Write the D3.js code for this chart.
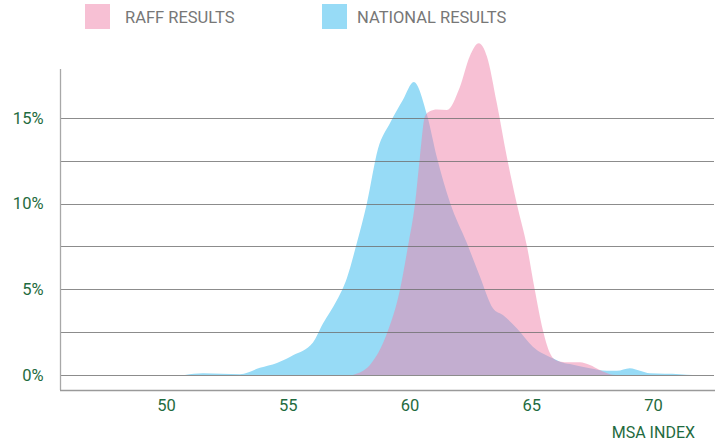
<!DOCTYPE html>
<html>
<head>
<meta charset="utf-8">
<script src="https://cdn.jsdelivr.net/npm/d3@7"></script>
<style>
  body { margin: 0; background: #fff; }
  svg text { font-family: Roboto, "Noto Sans", sans-serif; }
</style>
</head>
<body>
<div id="chart"></div>
<script>
// values (MSA index, share of results in %)
var seriesNames = ["RAFF RESULTS", "NATIONAL RESULTS"];
var seriesColors = ["#f7c0d4", "#97dbf6"];

var nationalX = [50.78, 51.52, 53.04, 53.86, 54.56, 55.22, 56.04, 56.45, 57.02, 57.43, 57.84, 58.25, 58.71, 59.2, 59.73, 60.18,
  60.72, 61.13, 61.66, 62.36, 62.9, 63.43, 63.84, 64.41, 65.07, 65.89, 66.18, 66.59, 67.41, 68.11, 68.52, 69.05, 69.47, 69.88, 71.1, 71.64];
var nationalY = [0, 0.1, 0.05, 0.42, 0.7, 1.15, 1.9, 3.0, 4.36, 5.65, 7.7, 10.0, 13.2, 14.7, 16.05, 17.1,
  15.2, 12.7, 10.1, 7.7, 5.74, 3.9, 3.5, 2.73, 1.65, 0.97, 0.78, 0.64, 0.4, 0.25, 0.25, 0.4, 0.25, 0.1, 0.05, 0];

var raffX = [57.68, 58.38, 59.08, 59.61, 59.94, 60.23, 60.43, 60.64, 60.84, 61.13, 61.54, 62.07, 62.48, 62.85, 63.18, 63.59,
  64.0, 64.41, 64.83, 65.15, 65.48, 65.77, 66.06, 66.39, 67.0, 67.41, 67.82, 68.23, 68.44];
var raffY = [0, 0.58, 2.43, 4.96, 7.5, 10, 12.7, 15.1, 15.4, 15.5, 15.47, 16.8, 18.6, 19.36, 18.6, 15.86,
  12.74, 10.0, 7.5, 4.96, 2.63, 1.28, 0.83, 0.75, 0.74, 0.58, 0.29, 0.05, 0];

var xTicks = [50, 55, 60, 65, 70];
var yTicks = [0, 5, 10, 15];
var gridValues = [0, 2.5, 5, 7.5, 10, 12.5, 15];

var svg = d3.select("#chart").append("svg").attr("width", 721).attr("height", 442);

var x = d3.scaleLinear().domain([45.65, 72.55]).range([60, 715]);
var y = d3.scaleLinear().domain([-0.876, 17.86]).range([390, 69]);

function toPoints(xs, ys) {
  return xs.map(function(v, i) { return {x: v, y: ys[i]}; });
}

var area = d3.area()
    .curve(d3.curveMonotoneX)
    .x(function(d) { return x(d.x); })
    .y0(y(0))
    .y1(function(d) { return y(d.y); });

// national first, raff over it half see-through
svg.append("path")
    .datum(toPoints(nationalX, nationalY))
    .attr("fill", "#97dbf6")
    .attr("d", area);

svg.append("path")
    .datum(toPoints(raffX, raffY))
    .attr("fill", "#ef81a9")
    .attr("fill-opacity", 0.5)
    .attr("d", area);

// gridlines
svg.append("g")
  .selectAll("line")
  .data(gridValues)
  .enter().append("line")
    .attr("x1", 60)
    .attr("x2", 714)
    .attr("y1", function(d) { return Math.round(y(d)) + 0.5; })
    .attr("y2", function(d) { return Math.round(y(d)) + 0.5; })
    .attr("stroke", "#6f6f6f")
    .attr("stroke-opacity", 0.8)
    .attr("stroke-width", 1.2);

// axes
var yAxis = svg.append("g")
    .attr("transform", "translate(60.5,0)")
    .call(d3.axisLeft(y).tickValues(yTicks).tickSize(0).tickPadding(17).tickFormat(function(d) { return d + "%"; }));
yAxis.select(".domain").remove();
yAxis.selectAll("text").attr("fill", "#1f6b40").style("font-size", "16.5px");

svg.append("line")
    .attr("x1", 60.5).attr("x2", 60.5)
    .attr("y1", 69).attr("y2", 390)
    .attr("stroke", "#a8a8a8").attr("stroke-width", 1.3);

var xAxis = svg.append("g")
    .attr("transform", "translate(0,390.5)")
    .call(d3.axisBottom(x).tickValues(xTicks).tickSize(0).tickPadding(9));
xAxis.select(".domain").remove();
xAxis.selectAll("text").attr("fill", "#1f6b40").style("font-size", "16.5px");

svg.append("line")
    .attr("x1", 60).attr("x2", 715)
    .attr("y1", 390.5).attr("y2", 390.5)
    .attr("stroke", "#9a9a9a").attr("stroke-width", 1.5);

svg.append("text")
    .attr("x", 695)
    .attr("y", 438)
    .attr("text-anchor", "end")
    .attr("fill", "#1f6b40")
    .style("font-size", "16px")
    .text("MSA INDEX");

// legend
var legendX = [85, 322];
var legend = svg.append("g").selectAll("g")
    .data(seriesNames)
    .enter().append("g")
    .attr("transform", function(d, i) { return "translate(" + legendX[i] + ",4)"; });

legend.append("rect")
    .attr("width", 25)
    .attr("height", 25)
    .attr("fill", function(d, i) { return seriesColors[i]; });

legend.append("text")
    .attr("x", function(d, i) { return i === 0 ? 40 : 35; })
    .attr("y", 19)
    .attr("fill", "#777")
    .style("font-size", "16.5px")
    .text(function(d) { return d; });
</script>
</body>
</html>
